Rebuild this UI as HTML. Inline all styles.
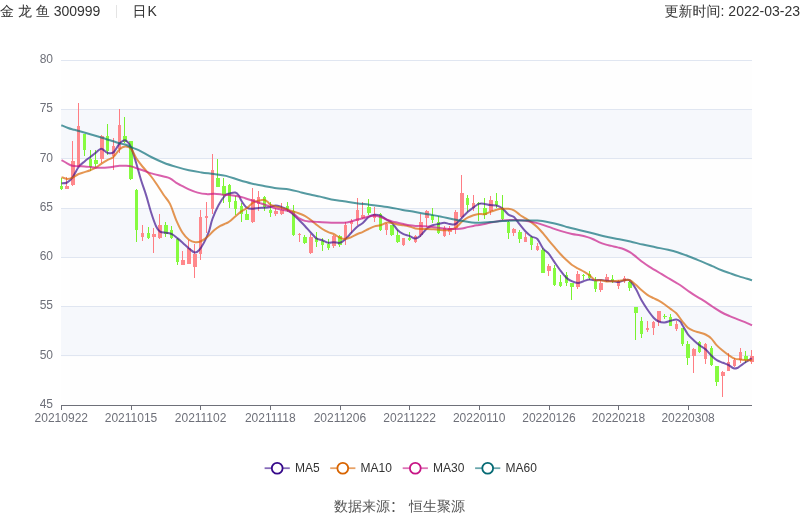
<!DOCTYPE html>
<html lang="zh"><head><meta charset="utf-8"><title>金龙鱼 300999 日K</title>
<style>
html,body{margin:0;padding:0;background:#fff;}
body{width:800px;height:517px;position:relative;overflow:hidden;font-family:"Liberation Sans","WenQuanYi Zen Hei","Noto Sans CJK SC",sans-serif;}
.hd{position:absolute;top:-0.5px;left:0;right:0;height:22px;line-height:22px;font-size:14px;color:#333;white-space:nowrap;}
.hd .l{position:absolute;left:0;top:0;}
.hd .r{position:absolute;right:0;top:0;}
.hd .sep{display:inline-block;width:1px;height:13px;background:#e4e4e4;margin:0 15px 0 16px;vertical-align:-2px;}
.hd .k{letter-spacing:1px;}
.ft{position:absolute;left:0;right:1px;top:494.5px;text-align:center;font-size:14px;color:#555;line-height:20px;white-space:pre;}
svg text{font-family:"Liberation Sans","WenQuanYi Zen Hei",sans-serif;}
.ft .cn{font-family:"Noto Sans CJK SC","WenQuanYi Zen Hei",sans-serif;margin-right:1.2px;}
.ax{font-size:12px;fill:#6E7079;}
.lg{font-size:12px;fill:#333;}
</style></head><body>
<div class="hd"><span class="l">金 龙 鱼 300999<span class="sep"></span><span class="k">日K</span></span><span class="r">更新时间: 2022-03-23</span></div>
<svg width="800" height="455" viewBox="0 22 800 455" style="position:absolute;left:0;top:22px">
<defs><clipPath id="cp"><rect x="61" y="59" width="692" height="347"/></clipPath></defs>
<rect x="61" y="60.50" width="691" height="49.29" fill="rgba(250,250,250,0.2)"/>
<rect x="61" y="109.79" width="691" height="49.29" fill="rgba(210,219,238,0.2)"/>
<rect x="61" y="159.07" width="691" height="49.29" fill="rgba(250,250,250,0.2)"/>
<rect x="61" y="208.36" width="691" height="49.29" fill="rgba(210,219,238,0.2)"/>
<rect x="61" y="257.64" width="691" height="49.29" fill="rgba(250,250,250,0.2)"/>
<rect x="61" y="306.93" width="691" height="49.29" fill="rgba(210,219,238,0.2)"/>
<rect x="61" y="356.21" width="691" height="49.29" fill="rgba(250,250,250,0.2)"/>
<line x1="61" y1="60.5" x2="752" y2="60.5" stroke="#E0E6F1" stroke-width="1"/>
<line x1="61" y1="109.5" x2="752" y2="109.5" stroke="#E0E6F1" stroke-width="1"/>
<line x1="61" y1="158.5" x2="752" y2="158.5" stroke="#E0E6F1" stroke-width="1"/>
<line x1="61" y1="208.5" x2="752" y2="208.5" stroke="#E0E6F1" stroke-width="1"/>
<line x1="61" y1="257.5" x2="752" y2="257.5" stroke="#E0E6F1" stroke-width="1"/>
<line x1="61" y1="306.5" x2="752" y2="306.5" stroke="#E0E6F1" stroke-width="1"/>
<line x1="61" y1="355.5" x2="752" y2="355.5" stroke="#E0E6F1" stroke-width="1"/>
<line x1="61" y1="405.5" x2="752" y2="405.5" stroke="#6E7079" stroke-width="1"/>
<line x1="61.5" y1="405" x2="61.5" y2="410" stroke="#6E7079" stroke-width="1"/>
<text x="61.3" y="422.4" text-anchor="middle" class="ax">20210922</text>
<line x1="131.5" y1="405" x2="131.5" y2="410" stroke="#6E7079" stroke-width="1"/>
<text x="131.0" y="422.4" text-anchor="middle" class="ax">20211015</text>
<line x1="200.5" y1="405" x2="200.5" y2="410" stroke="#6E7079" stroke-width="1"/>
<text x="200.6" y="422.4" text-anchor="middle" class="ax">20211102</text>
<line x1="270.5" y1="405" x2="270.5" y2="410" stroke="#6E7079" stroke-width="1"/>
<text x="270.3" y="422.4" text-anchor="middle" class="ax">20211118</text>
<line x1="340.5" y1="405" x2="340.5" y2="410" stroke="#6E7079" stroke-width="1"/>
<text x="339.9" y="422.4" text-anchor="middle" class="ax">20211206</text>
<line x1="409.5" y1="405" x2="409.5" y2="410" stroke="#6E7079" stroke-width="1"/>
<text x="409.6" y="422.4" text-anchor="middle" class="ax">20211222</text>
<line x1="479.5" y1="405" x2="479.5" y2="410" stroke="#6E7079" stroke-width="1"/>
<text x="479.2" y="422.4" text-anchor="middle" class="ax">20220110</text>
<line x1="549.5" y1="405" x2="549.5" y2="410" stroke="#6E7079" stroke-width="1"/>
<text x="548.9" y="422.4" text-anchor="middle" class="ax">20220126</text>
<line x1="618.5" y1="405" x2="618.5" y2="410" stroke="#6E7079" stroke-width="1"/>
<text x="618.5" y="422.4" text-anchor="middle" class="ax">20220218</text>
<line x1="688.5" y1="405" x2="688.5" y2="410" stroke="#6E7079" stroke-width="1"/>
<text x="688.1" y="422.4" text-anchor="middle" class="ax">20220308</text>
<text x="53" y="62.7" text-anchor="end" class="ax">80</text>
<text x="53" y="111.7" text-anchor="end" class="ax">75</text>
<text x="53" y="161.7" text-anchor="end" class="ax">70</text>
<text x="53" y="210.7" text-anchor="end" class="ax">65</text>
<text x="53" y="259.7" text-anchor="end" class="ax">60</text>
<text x="53" y="308.7" text-anchor="end" class="ax">55</text>
<text x="53" y="358.7" text-anchor="end" class="ax">50</text>
<text x="53" y="407.7" text-anchor="end" class="ax">45</text>
<g>
<rect x="61.0" y="178" width="1" height="12" fill="#78f22e"/>
<rect x="60" y="186" width="3" height="3" fill="#86fb40"/>
<rect x="66.0" y="177" width="1" height="12" fill="#ff7d83"/>
<rect x="65" y="186" width="4" height="3" fill="#ff888c"/>
<rect x="72.0" y="141" width="1" height="45" fill="#ff7d83"/>
<rect x="71" y="161" width="4" height="24" fill="#ff888c"/>
<rect x="78.0" y="103" width="1" height="64" fill="#ff7d83"/>
<rect x="77" y="126" width="3" height="41" fill="#ff888c"/>
<rect x="84.0" y="134" width="1" height="22" fill="#78f22e"/>
<rect x="83" y="134" width="3" height="16" fill="#86fb40"/>
<rect x="90.0" y="150" width="1" height="21" fill="#78f22e"/>
<rect x="89" y="159" width="3" height="8" fill="#86fb40"/>
<rect x="95.0" y="150" width="1" height="17" fill="#78f22e"/>
<rect x="94" y="160" width="4" height="4" fill="#86fb40"/>
<rect x="101.0" y="135" width="1" height="28" fill="#ff7d83"/>
<rect x="100" y="136" width="4" height="23" fill="#ff888c"/>
<rect x="107.0" y="124" width="1" height="31" fill="#78f22e"/>
<rect x="106" y="136" width="3" height="15" fill="#86fb40"/>
<rect x="113.0" y="138" width="1" height="32" fill="#ff7d83"/>
<rect x="112" y="146" width="3" height="10" fill="#ff888c"/>
<rect x="119.0" y="109" width="1" height="44" fill="#ff7d83"/>
<rect x="118" y="125" width="3" height="24" fill="#ff888c"/>
<rect x="124.0" y="117" width="1" height="26" fill="#78f22e"/>
<rect x="123" y="136" width="4" height="6" fill="#86fb40"/>
<rect x="130.0" y="141" width="1" height="39" fill="#78f22e"/>
<rect x="129" y="141" width="4" height="38" fill="#86fb40"/>
<rect x="136.0" y="189" width="1" height="53" fill="#78f22e"/>
<rect x="135" y="190" width="3" height="40" fill="#86fb40"/>
<rect x="142.0" y="225" width="1" height="16" fill="#ff7d83"/>
<rect x="141" y="233" width="3" height="4" fill="#ff888c"/>
<rect x="148.0" y="227" width="1" height="12" fill="#78f22e"/>
<rect x="147" y="233" width="3" height="5" fill="#86fb40"/>
<rect x="153.0" y="228" width="1" height="25" fill="#ff7d83"/>
<rect x="152" y="234" width="4" height="3" fill="#ff888c"/>
<rect x="159.0" y="214" width="1" height="25" fill="#ff7d83"/>
<rect x="158" y="225" width="4" height="13" fill="#ff888c"/>
<rect x="165.0" y="222" width="1" height="15" fill="#78f22e"/>
<rect x="164" y="225" width="4" height="9" fill="#86fb40"/>
<rect x="171.0" y="226" width="1" height="13" fill="#78f22e"/>
<rect x="170" y="230" width="3" height="8" fill="#86fb40"/>
<rect x="177.0" y="238" width="1" height="27" fill="#78f22e"/>
<rect x="176" y="239" width="3" height="23" fill="#86fb40"/>
<rect x="182.0" y="251" width="1" height="14" fill="#ff7d83"/>
<rect x="181" y="260" width="4" height="5" fill="#ff888c"/>
<rect x="188.0" y="240" width="1" height="24" fill="#ff7d83"/>
<rect x="187" y="248" width="4" height="16" fill="#ff888c"/>
<rect x="194.0" y="244" width="1" height="34" fill="#ff7d83"/>
<rect x="193" y="254" width="4" height="13" fill="#ff888c"/>
<rect x="200.0" y="210" width="1" height="50" fill="#ff7d83"/>
<rect x="199" y="217" width="3" height="37" fill="#ff888c"/>
<rect x="206.0" y="202" width="1" height="31" fill="#ff7d83"/>
<rect x="205" y="216" width="3" height="2" fill="#ff888c"/>
<rect x="212.0" y="154" width="1" height="60" fill="#ff7d83"/>
<rect x="211" y="170" width="3" height="39" fill="#ff888c"/>
<rect x="217.0" y="159" width="1" height="28" fill="#78f22e"/>
<rect x="216" y="178" width="4" height="9" fill="#86fb40"/>
<rect x="223.0" y="178" width="1" height="25" fill="#78f22e"/>
<rect x="222" y="186" width="4" height="9" fill="#86fb40"/>
<rect x="229.0" y="184" width="1" height="24" fill="#78f22e"/>
<rect x="228" y="185" width="3" height="17" fill="#86fb40"/>
<rect x="235.0" y="196" width="1" height="19" fill="#78f22e"/>
<rect x="234" y="201" width="3" height="8" fill="#86fb40"/>
<rect x="241.0" y="203" width="1" height="19" fill="#78f22e"/>
<rect x="240" y="206" width="3" height="8" fill="#86fb40"/>
<rect x="246.0" y="210" width="1" height="10" fill="#78f22e"/>
<rect x="245" y="214" width="4" height="6" fill="#86fb40"/>
<rect x="252.0" y="188" width="1" height="35" fill="#ff7d83"/>
<rect x="251" y="199" width="4" height="23" fill="#ff888c"/>
<rect x="258.0" y="191" width="1" height="20" fill="#ff7d83"/>
<rect x="257" y="197" width="3" height="7" fill="#ff888c"/>
<rect x="264.0" y="196" width="1" height="15" fill="#78f22e"/>
<rect x="263" y="197" width="3" height="10" fill="#86fb40"/>
<rect x="270.0" y="202" width="1" height="15" fill="#78f22e"/>
<rect x="269" y="210" width="3" height="3" fill="#86fb40"/>
<rect x="275.0" y="208" width="1" height="8" fill="#ff7d83"/>
<rect x="274" y="211" width="4" height="3" fill="#ff888c"/>
<rect x="281.0" y="203" width="1" height="12" fill="#ff7d83"/>
<rect x="280" y="210" width="4" height="4" fill="#ff888c"/>
<rect x="287.0" y="202" width="1" height="10" fill="#78f22e"/>
<rect x="286" y="206" width="3" height="3" fill="#86fb40"/>
<rect x="293.0" y="205" width="1" height="31" fill="#78f22e"/>
<rect x="292" y="211" width="3" height="24" fill="#86fb40"/>
<rect x="299.0" y="233" width="1" height="9" fill="#ff7d83"/>
<rect x="298" y="234" width="3" height="1" fill="#ff888c"/>
<rect x="304.0" y="235" width="1" height="9" fill="#78f22e"/>
<rect x="303" y="237" width="4" height="6" fill="#86fb40"/>
<rect x="310.0" y="234" width="1" height="20" fill="#ff7d83"/>
<rect x="309" y="237" width="4" height="16" fill="#ff888c"/>
<rect x="316.0" y="232" width="1" height="15" fill="#78f22e"/>
<rect x="315" y="238" width="3" height="4" fill="#86fb40"/>
<rect x="322.0" y="238" width="1" height="13" fill="#78f22e"/>
<rect x="321" y="241" width="3" height="4" fill="#86fb40"/>
<rect x="328.0" y="239" width="1" height="11" fill="#78f22e"/>
<rect x="327" y="244" width="3" height="4" fill="#86fb40"/>
<rect x="333.0" y="235" width="1" height="13" fill="#ff7d83"/>
<rect x="332" y="236" width="4" height="10" fill="#ff888c"/>
<rect x="339.0" y="235" width="1" height="12" fill="#78f22e"/>
<rect x="338" y="236" width="4" height="9" fill="#86fb40"/>
<rect x="345.0" y="222" width="1" height="23" fill="#ff7d83"/>
<rect x="344" y="225" width="3" height="14" fill="#ff888c"/>
<rect x="351.0" y="219" width="1" height="14" fill="#ff7d83"/>
<rect x="350" y="221" width="3" height="3" fill="#ff888c"/>
<rect x="357.0" y="198" width="1" height="27" fill="#ff7d83"/>
<rect x="356" y="210" width="3" height="11" fill="#ff888c"/>
<rect x="362.0" y="202" width="1" height="17" fill="#ff7d83"/>
<rect x="361" y="215" width="4" height="3" fill="#ff888c"/>
<rect x="368.0" y="199" width="1" height="16" fill="#78f22e"/>
<rect x="367" y="207" width="4" height="6" fill="#86fb40"/>
<rect x="374.0" y="207" width="1" height="15" fill="#ff7d83"/>
<rect x="373" y="214" width="3" height="4" fill="#ff888c"/>
<rect x="380.0" y="213" width="1" height="18" fill="#78f22e"/>
<rect x="379" y="214" width="3" height="16" fill="#86fb40"/>
<rect x="386.0" y="223" width="1" height="12" fill="#ff7d83"/>
<rect x="385" y="224" width="3" height="6" fill="#ff888c"/>
<rect x="391.0" y="225" width="1" height="11" fill="#78f22e"/>
<rect x="390" y="225" width="4" height="10" fill="#86fb40"/>
<rect x="397.0" y="230" width="1" height="13" fill="#78f22e"/>
<rect x="396" y="235" width="4" height="7" fill="#86fb40"/>
<rect x="403.0" y="238" width="1" height="8" fill="#ff7d83"/>
<rect x="402" y="238" width="3" height="7" fill="#ff888c"/>
<rect x="409.0" y="232" width="1" height="9" fill="#78f22e"/>
<rect x="408" y="238" width="3" height="2" fill="#86fb40"/>
<rect x="415.0" y="235" width="1" height="8" fill="#ff7d83"/>
<rect x="414" y="236" width="3" height="6" fill="#ff888c"/>
<rect x="420.0" y="214" width="1" height="23" fill="#ff7d83"/>
<rect x="419" y="222" width="4" height="13" fill="#ff888c"/>
<rect x="426.0" y="210" width="1" height="17" fill="#ff7d83"/>
<rect x="425" y="211" width="4" height="7" fill="#ff888c"/>
<rect x="432.0" y="208" width="1" height="15" fill="#78f22e"/>
<rect x="431" y="215" width="3" height="5" fill="#86fb40"/>
<rect x="438.0" y="216" width="1" height="18" fill="#78f22e"/>
<rect x="437" y="222" width="3" height="11" fill="#86fb40"/>
<rect x="444.0" y="226" width="1" height="11" fill="#ff7d83"/>
<rect x="443" y="228" width="3" height="8" fill="#ff888c"/>
<rect x="449.0" y="226" width="1" height="9" fill="#ff7d83"/>
<rect x="448" y="228" width="4" height="4" fill="#ff888c"/>
<rect x="455.0" y="210" width="1" height="24" fill="#ff7d83"/>
<rect x="454" y="212" width="4" height="16" fill="#ff888c"/>
<rect x="461.0" y="175" width="1" height="43" fill="#ff7d83"/>
<rect x="460" y="193" width="4" height="24" fill="#ff888c"/>
<rect x="467.0" y="195" width="1" height="17" fill="#78f22e"/>
<rect x="466" y="198" width="3" height="7" fill="#86fb40"/>
<rect x="473.0" y="195" width="1" height="16" fill="#ff7d83"/>
<rect x="472" y="203" width="3" height="5" fill="#ff888c"/>
<rect x="478.0" y="202" width="1" height="19" fill="#78f22e"/>
<rect x="477" y="203" width="4" height="1" fill="#86fb40"/>
<rect x="484.0" y="198" width="1" height="21" fill="#78f22e"/>
<rect x="483" y="208" width="4" height="7" fill="#86fb40"/>
<rect x="490.0" y="196" width="1" height="19" fill="#ff7d83"/>
<rect x="489" y="200" width="4" height="11" fill="#ff888c"/>
<rect x="496.0" y="193" width="1" height="15" fill="#78f22e"/>
<rect x="495" y="201" width="3" height="4" fill="#86fb40"/>
<rect x="502.0" y="195" width="1" height="25" fill="#78f22e"/>
<rect x="501" y="208" width="3" height="11" fill="#86fb40"/>
<rect x="508.0" y="221" width="1" height="18" fill="#78f22e"/>
<rect x="507" y="222" width="3" height="11" fill="#86fb40"/>
<rect x="513.0" y="228" width="1" height="8" fill="#ff7d83"/>
<rect x="512" y="229" width="4" height="4" fill="#ff888c"/>
<rect x="519.0" y="230" width="1" height="13" fill="#78f22e"/>
<rect x="518" y="232" width="4" height="7" fill="#86fb40"/>
<rect x="525.0" y="233" width="1" height="9" fill="#ff7d83"/>
<rect x="524" y="237" width="3" height="5" fill="#ff888c"/>
<rect x="531.0" y="236" width="1" height="14" fill="#78f22e"/>
<rect x="530" y="237" width="3" height="8" fill="#86fb40"/>
<rect x="537.0" y="243" width="1" height="8" fill="#ff7d83"/>
<rect x="536" y="246" width="3" height="4" fill="#ff888c"/>
<rect x="542.0" y="248" width="1" height="25" fill="#78f22e"/>
<rect x="541" y="250" width="4" height="23" fill="#86fb40"/>
<rect x="548.0" y="264" width="1" height="12" fill="#ff7d83"/>
<rect x="547" y="266" width="4" height="5" fill="#ff888c"/>
<rect x="554.0" y="265" width="1" height="21" fill="#78f22e"/>
<rect x="553" y="268" width="3" height="17" fill="#86fb40"/>
<rect x="560.0" y="275" width="1" height="12" fill="#78f22e"/>
<rect x="559" y="282" width="3" height="4" fill="#86fb40"/>
<rect x="566.0" y="272" width="1" height="14" fill="#78f22e"/>
<rect x="565" y="275" width="3" height="8" fill="#86fb40"/>
<rect x="571.0" y="283" width="1" height="17" fill="#78f22e"/>
<rect x="570" y="283" width="4" height="4" fill="#86fb40"/>
<rect x="577.0" y="271" width="1" height="18" fill="#ff7d83"/>
<rect x="576" y="274" width="4" height="13" fill="#ff888c"/>
<rect x="583.0" y="274" width="1" height="6" fill="#78f22e"/>
<rect x="582" y="275" width="3" height="1" fill="#86fb40"/>
<rect x="589.0" y="271" width="1" height="9" fill="#78f22e"/>
<rect x="588" y="274" width="3" height="4" fill="#86fb40"/>
<rect x="595.0" y="277" width="1" height="15" fill="#78f22e"/>
<rect x="594" y="281" width="3" height="8" fill="#86fb40"/>
<rect x="600.0" y="280" width="1" height="12" fill="#ff7d83"/>
<rect x="599" y="283" width="4" height="7" fill="#ff888c"/>
<rect x="606.0" y="274" width="1" height="8" fill="#ff7d83"/>
<rect x="605" y="277" width="4" height="4" fill="#ff888c"/>
<rect x="612.0" y="275" width="1" height="8" fill="#78f22e"/>
<rect x="611" y="279" width="3" height="2" fill="#86fb40"/>
<rect x="618.0" y="280" width="1" height="9" fill="#ff7d83"/>
<rect x="617" y="281" width="3" height="5" fill="#ff888c"/>
<rect x="624.0" y="276" width="1" height="7" fill="#ff7d83"/>
<rect x="623" y="278" width="3" height="3" fill="#ff888c"/>
<rect x="629.0" y="281" width="1" height="10" fill="#78f22e"/>
<rect x="628" y="282" width="4" height="6" fill="#86fb40"/>
<rect x="635.0" y="307" width="1" height="33" fill="#78f22e"/>
<rect x="634" y="307" width="4" height="6" fill="#86fb40"/>
<rect x="641.0" y="317" width="1" height="21" fill="#78f22e"/>
<rect x="640" y="321" width="3" height="13" fill="#86fb40"/>
<rect x="647.0" y="321" width="1" height="11" fill="#ff7d83"/>
<rect x="646" y="328" width="3" height="2" fill="#ff888c"/>
<rect x="653.0" y="321" width="1" height="14" fill="#ff7d83"/>
<rect x="652" y="322" width="3" height="6" fill="#ff888c"/>
<rect x="658.0" y="311" width="1" height="15" fill="#ff7d83"/>
<rect x="657" y="311" width="4" height="11" fill="#ff888c"/>
<rect x="664.0" y="314" width="1" height="5" fill="#78f22e"/>
<rect x="663" y="316" width="4" height="1" fill="#86fb40"/>
<rect x="670.0" y="314" width="1" height="12" fill="#78f22e"/>
<rect x="669" y="317" width="3" height="9" fill="#86fb40"/>
<rect x="676.0" y="321" width="1" height="10" fill="#ff7d83"/>
<rect x="675" y="324" width="3" height="5" fill="#ff888c"/>
<rect x="682.0" y="328" width="1" height="18" fill="#78f22e"/>
<rect x="681" y="328" width="3" height="16" fill="#86fb40"/>
<rect x="687.0" y="341" width="1" height="24" fill="#78f22e"/>
<rect x="686" y="344" width="4" height="14" fill="#86fb40"/>
<rect x="693.0" y="348" width="1" height="25" fill="#ff7d83"/>
<rect x="692" y="349" width="4" height="7" fill="#ff888c"/>
<rect x="699.0" y="341" width="1" height="12" fill="#78f22e"/>
<rect x="698" y="342" width="3" height="10" fill="#86fb40"/>
<rect x="705.0" y="343" width="1" height="21" fill="#ff7d83"/>
<rect x="704" y="344" width="3" height="15" fill="#ff888c"/>
<rect x="711.0" y="346" width="1" height="20" fill="#78f22e"/>
<rect x="710" y="348" width="3" height="17" fill="#86fb40"/>
<rect x="716.0" y="366" width="1" height="20" fill="#78f22e"/>
<rect x="715" y="366" width="4" height="16" fill="#86fb40"/>
<rect x="722.0" y="371" width="1" height="26" fill="#ff7d83"/>
<rect x="721" y="372" width="4" height="4" fill="#ff888c"/>
<rect x="728.0" y="353" width="1" height="18" fill="#ff7d83"/>
<rect x="727" y="362" width="3" height="9" fill="#ff888c"/>
<rect x="734.0" y="358" width="1" height="9" fill="#ff7d83"/>
<rect x="733" y="360" width="3" height="6" fill="#ff888c"/>
<rect x="740.0" y="348" width="1" height="15" fill="#ff7d83"/>
<rect x="739" y="352" width="3" height="8" fill="#ff888c"/>
<rect x="745.0" y="351" width="1" height="12" fill="#78f22e"/>
<rect x="744" y="356" width="4" height="4" fill="#86fb40"/>
<rect x="751.0" y="350" width="1" height="14" fill="#ff7d83"/>
<rect x="750" y="356" width="4" height="6" fill="#ff888c"/>
</g><g clip-path="url(#cp)">
<path d="M61.50 183.40C62.43 183.25 65.28 183.45 67.10 182.50C68.92 181.55 70.48 180.28 72.40 177.70C74.32 175.12 76.57 169.72 78.60 167.00C80.63 164.28 82.65 163.07 84.60 161.40C86.55 159.73 88.42 158.47 90.30 157.00C92.18 155.53 94.07 153.98 95.90 152.60C97.73 151.22 99.40 148.68 101.30 148.70C103.20 148.72 105.28 152.08 107.30 152.70C109.32 153.32 111.37 153.92 113.40 152.40C115.43 150.88 117.53 145.62 119.50 143.60C121.47 141.58 123.27 139.65 125.20 140.30C127.13 140.95 129.25 143.63 131.10 147.50C132.95 151.37 134.63 158.03 136.30 163.50C137.97 168.97 139.47 175.03 141.10 180.30C142.73 185.57 144.42 189.70 146.10 195.10C147.78 200.50 149.52 207.47 151.20 212.70C152.88 217.93 154.73 223.35 156.20 226.50C157.67 229.65 158.32 230.55 160.00 231.60C161.68 232.65 164.32 232.38 166.30 232.80C168.28 233.22 170.02 233.17 171.90 234.10C173.78 235.03 175.60 236.77 177.60 238.40C179.60 240.03 181.80 242.05 183.90 243.90C186.00 245.75 188.38 248.08 190.20 249.50C192.02 250.92 193.33 252.28 194.80 252.40C196.27 252.52 197.47 251.83 199.00 250.20C200.53 248.57 202.33 245.75 204.00 242.60C205.67 239.45 207.60 235.23 209.00 231.30C210.40 227.37 210.82 223.35 212.40 219.00C213.98 214.65 216.33 209.18 218.50 205.20C220.67 201.22 223.58 197.03 225.40 195.10C227.22 193.17 227.75 194.02 229.40 193.60C231.05 193.18 233.72 192.25 235.30 192.60C236.88 192.95 237.88 194.33 238.90 195.70C239.92 197.07 240.08 198.80 241.40 200.80C242.72 202.80 244.87 206.38 246.80 207.70C248.73 209.02 251.07 208.67 253.00 208.70C254.93 208.73 256.50 208.07 258.40 207.90C260.30 207.73 262.42 207.85 264.40 207.70C266.38 207.55 268.43 207.37 270.30 207.00C272.17 206.63 273.72 205.50 275.60 205.50C277.48 205.50 279.62 206.32 281.60 207.00C283.58 207.68 285.55 208.33 287.50 209.60C289.45 210.87 291.35 212.82 293.30 214.60C295.25 216.38 297.27 218.40 299.20 220.30C301.13 222.20 302.95 223.93 304.90 226.00C306.85 228.07 308.98 230.65 310.90 232.70C312.82 234.75 314.48 237.03 316.40 238.30C318.32 239.57 320.42 239.55 322.40 240.30C324.38 241.05 326.42 242.48 328.30 242.80C330.18 243.12 331.75 242.20 333.70 242.20C335.65 242.20 338.03 243.33 340.00 242.80C341.97 242.27 343.62 240.68 345.50 239.00C347.38 237.32 349.30 234.80 351.30 232.70C353.30 230.60 355.63 227.97 357.50 226.40C359.37 224.83 360.65 224.87 362.50 223.30C364.35 221.73 366.60 218.43 368.60 217.00C370.60 215.57 372.52 214.90 374.50 214.70C376.48 214.50 378.52 215.00 380.50 215.80C382.48 216.60 384.47 218.30 386.40 219.50C388.33 220.70 390.20 221.20 392.10 223.00C394.00 224.80 395.90 228.45 397.80 230.30C399.70 232.15 401.57 233.17 403.50 234.10C405.43 235.03 407.42 235.17 409.40 235.90C411.38 236.63 413.50 238.60 415.40 238.50C417.30 238.40 418.88 236.98 420.80 235.30C422.72 233.62 424.95 230.07 426.90 228.40C428.85 226.73 430.58 226.03 432.50 225.30C434.42 224.57 436.43 224.43 438.40 224.00C440.37 223.57 442.42 222.70 444.30 222.70C446.18 222.70 447.80 223.78 449.70 224.00C451.60 224.22 453.65 225.05 455.70 224.00C457.75 222.95 460.02 219.70 462.00 217.70C463.98 215.70 465.70 213.68 467.60 212.00C469.50 210.32 471.53 208.95 473.40 207.60C475.27 206.25 476.92 204.52 478.80 203.90C480.68 203.28 482.83 203.70 484.70 203.90C486.57 204.10 488.03 204.83 490.00 205.10C491.97 205.37 494.43 204.95 496.50 205.50C498.57 206.05 500.42 206.88 502.40 208.40C504.38 209.92 506.47 213.15 508.40 214.60C510.33 216.05 512.12 215.47 514.00 217.10C515.88 218.73 517.77 222.00 519.70 224.40C521.63 226.80 523.63 229.48 525.60 231.50C527.57 233.52 529.53 235.25 531.50 236.50C533.47 237.75 535.47 237.00 537.40 239.00C539.33 241.00 541.22 246.07 543.10 248.50C544.98 250.93 546.80 251.33 548.70 253.60C550.60 255.87 552.55 259.28 554.50 262.10C556.45 264.92 558.42 267.90 560.40 270.50C562.38 273.10 564.52 275.92 566.40 277.70C568.28 279.48 569.77 280.32 571.70 281.20C573.63 282.08 576.02 283.00 578.00 283.00C579.98 283.00 581.70 281.77 583.60 281.20C585.50 280.63 587.45 279.77 589.40 279.60C591.35 279.43 593.37 280.15 595.30 280.20C597.23 280.25 599.12 279.80 601.00 279.90C602.88 280.00 604.65 280.58 606.60 280.80C608.55 281.02 610.70 280.98 612.70 281.20C614.70 281.42 616.63 282.27 618.60 282.10C620.57 281.93 622.60 280.45 624.50 280.20C626.40 279.95 628.12 279.17 630.00 280.60C631.88 282.03 633.90 285.55 635.80 288.80C637.70 292.05 639.47 296.65 641.40 300.10C643.33 303.55 645.37 306.57 647.40 309.50C649.43 312.43 651.72 315.70 653.60 317.70C655.48 319.70 656.85 320.72 658.70 321.50C660.55 322.28 662.73 322.52 664.70 322.40C666.67 322.28 668.57 321.27 670.50 320.80C672.43 320.33 674.67 319.48 676.30 319.60C677.93 319.72 679.27 320.55 680.30 321.50C681.33 322.45 681.23 323.17 682.50 325.30C683.77 327.43 686.00 331.77 687.90 334.30C689.80 336.83 691.97 338.68 693.90 340.50C695.83 342.32 697.57 343.73 699.50 345.20C701.43 346.67 703.50 347.53 705.50 349.30C707.50 351.07 709.62 353.98 711.50 355.80C713.38 357.62 714.90 359.03 716.80 360.20C718.70 361.37 720.95 362.00 722.90 362.80C724.85 363.60 726.72 364.08 728.50 365.00C730.28 365.92 732.13 367.80 733.60 368.30C735.07 368.80 736.15 368.42 737.30 368.00C738.45 367.58 739.07 366.80 740.50 365.80C741.93 364.80 744.02 363.25 745.90 362.00C747.78 360.75 750.82 358.92 751.80 358.30" fill="none" stroke="#3A0C8A" stroke-width="2" stroke-opacity="0.68" stroke-linejoin="round"/>
<path d="M61.50 177.10C62.43 177.42 65.28 178.90 67.10 179.00C68.92 179.10 70.48 178.53 72.40 177.70C74.32 176.87 76.57 174.93 78.60 174.00C80.63 173.07 82.65 172.73 84.60 172.10C86.55 171.47 88.42 170.93 90.30 170.20C92.18 169.47 93.97 168.85 95.90 167.70C97.83 166.55 100.00 164.57 101.90 163.30C103.80 162.03 105.38 161.15 107.30 160.10C109.22 159.05 111.37 158.78 113.40 157.00C115.43 155.22 117.53 151.13 119.50 149.40C121.47 147.67 123.27 146.70 125.20 146.60C127.13 146.50 129.25 146.85 131.10 148.80C132.95 150.75 134.42 155.35 136.30 158.30C138.18 161.25 139.92 163.47 142.40 166.50C144.88 169.53 148.70 173.37 151.20 176.50C153.70 179.63 155.32 182.22 157.40 185.30C159.48 188.38 161.60 191.90 163.70 195.00C165.80 198.10 167.90 199.68 170.00 203.90C172.10 208.12 174.20 215.48 176.30 220.30C178.40 225.12 180.50 229.57 182.60 232.80C184.70 236.03 186.80 238.13 188.90 239.70C191.00 241.27 193.10 241.98 195.20 242.20C197.30 242.42 199.40 241.93 201.50 241.00C203.60 240.07 205.70 238.38 207.80 236.60C209.90 234.82 212.02 232.08 214.10 230.30C216.18 228.52 218.32 227.05 220.30 225.90C222.28 224.75 224.48 224.13 226.00 223.40C227.52 222.67 227.85 222.65 229.40 221.50C230.95 220.35 233.30 218.18 235.30 216.50C237.30 214.82 239.48 212.77 241.40 211.40C243.32 210.03 244.87 209.77 246.80 208.30C248.73 206.83 251.07 203.85 253.00 202.60C254.93 201.35 256.50 201.25 258.40 200.80C260.30 200.35 262.83 199.70 264.40 199.90C265.97 200.10 266.82 201.23 267.80 202.00C268.78 202.77 269.00 203.77 270.30 204.50C271.60 205.23 273.72 205.83 275.60 206.40C277.48 206.97 279.62 207.37 281.60 207.90C283.58 208.43 285.55 209.02 287.50 209.60C289.45 210.18 291.35 210.75 293.30 211.40C295.25 212.05 297.28 212.77 299.20 213.50C301.12 214.23 302.85 214.72 304.80 215.80C306.75 216.88 308.97 218.53 310.90 220.00C312.83 221.47 314.48 223.10 316.40 224.60C318.32 226.10 320.42 227.75 322.40 229.00C324.38 230.25 326.42 231.27 328.30 232.10C330.18 232.93 331.75 233.05 333.70 234.00C335.65 234.95 338.03 236.97 340.00 237.80C341.97 238.63 343.62 239.12 345.50 239.00C347.38 238.88 349.30 237.93 351.30 237.10C353.30 236.27 355.63 234.83 357.50 234.00C359.37 233.17 360.65 232.93 362.50 232.10C364.35 231.27 366.60 229.95 368.60 229.00C370.60 228.05 372.52 227.03 374.50 226.40C376.48 225.77 378.52 225.82 380.50 225.20C382.48 224.58 384.47 223.08 386.40 222.70C388.33 222.32 390.20 222.58 392.10 222.90C394.00 223.22 395.90 224.20 397.80 224.60C399.70 225.00 401.57 224.98 403.50 225.30C405.43 225.62 407.42 225.98 409.40 226.50C411.38 227.02 413.50 227.98 415.40 228.40C417.30 228.82 418.88 228.90 420.80 229.00C422.72 229.10 424.95 228.95 426.90 229.00C428.85 229.05 430.58 229.18 432.50 229.30C434.42 229.42 436.43 229.53 438.40 229.70C440.37 229.87 442.42 230.30 444.30 230.30C446.18 230.30 447.80 230.12 449.70 229.70C451.60 229.28 453.65 229.17 455.70 227.80C457.75 226.43 460.02 223.18 462.00 221.50C463.98 219.82 465.70 218.75 467.60 217.70C469.50 216.65 471.53 215.83 473.40 215.20C475.27 214.57 476.92 214.07 478.80 213.90C480.68 213.73 482.83 214.52 484.70 214.20C486.57 213.88 488.03 212.75 490.00 212.00C491.97 211.25 494.43 210.23 496.50 209.70C498.57 209.17 500.42 208.95 502.40 208.80C504.38 208.65 506.47 208.55 508.40 208.80C510.33 209.05 512.12 209.32 514.00 210.30C515.88 211.28 517.77 213.35 519.70 214.70C521.63 216.05 523.63 217.10 525.60 218.40C527.57 219.70 529.53 221.03 531.50 222.50C533.47 223.97 535.47 225.38 537.40 227.20C539.33 229.02 541.22 231.22 543.10 233.40C544.98 235.58 546.80 238.00 548.70 240.30C550.60 242.60 552.55 244.92 554.50 247.20C556.45 249.48 558.42 251.87 560.40 254.00C562.38 256.13 564.52 258.22 566.40 260.00C568.28 261.78 569.77 263.28 571.70 264.70C573.63 266.12 576.02 267.37 578.00 268.50C579.98 269.63 581.70 270.38 583.60 271.50C585.50 272.62 587.45 273.75 589.40 275.20C591.35 276.65 593.37 279.37 595.30 280.20C597.23 281.03 599.12 280.00 601.00 280.20C602.88 280.40 604.65 281.23 606.60 281.40C608.55 281.57 610.70 281.30 612.70 281.20C614.70 281.10 616.63 280.97 618.60 280.80C620.57 280.63 622.60 280.30 624.50 280.20C626.40 280.10 628.12 279.43 630.00 280.20C631.88 280.97 633.90 283.17 635.80 284.80C637.70 286.43 639.47 288.33 641.40 290.00C643.33 291.67 645.37 293.43 647.40 294.80C649.43 296.17 651.72 297.22 653.60 298.20C655.48 299.18 656.85 299.65 658.70 300.70C660.55 301.75 662.73 303.13 664.70 304.50C666.67 305.87 668.57 307.43 670.50 308.90C672.43 310.37 674.30 311.20 676.30 313.30C678.30 315.40 680.57 319.08 682.50 321.50C684.43 323.92 686.00 326.23 687.90 327.80C689.80 329.37 691.97 330.12 693.90 330.90C695.83 331.68 697.57 331.90 699.50 332.50C701.43 333.10 703.52 333.48 705.50 334.50C707.48 335.52 709.52 336.78 711.40 338.60C713.28 340.42 714.88 343.37 716.80 345.40C718.72 347.43 720.95 349.20 722.90 350.80C724.85 352.40 726.55 353.70 728.50 355.00C730.45 356.30 732.60 357.85 734.60 358.60C736.60 359.35 738.62 359.23 740.50 359.50C742.38 359.77 744.02 360.08 745.90 360.20C747.78 360.32 750.82 360.20 751.80 360.20" fill="none" stroke="#D86400" stroke-width="2" stroke-opacity="0.68" stroke-linejoin="round"/>
<path d="M61.50 160.10C62.43 160.63 65.28 162.35 67.10 163.30C68.92 164.25 70.48 165.32 72.40 165.80C74.32 166.28 76.57 166.10 78.60 166.20C80.63 166.30 82.65 166.27 84.60 166.40C86.55 166.53 88.42 166.78 90.30 167.00C92.18 167.22 93.97 167.58 95.90 167.70C97.83 167.82 100.00 167.75 101.90 167.70C103.80 167.65 105.38 167.57 107.30 167.40C109.22 167.23 111.37 166.97 113.40 166.70C115.43 166.43 117.53 165.95 119.50 165.80C121.47 165.65 123.27 165.70 125.20 165.80C127.13 165.90 128.87 165.87 131.10 166.40C133.33 166.93 136.45 168.27 138.60 169.00C140.75 169.73 141.90 170.07 144.00 170.80C146.10 171.53 147.92 172.45 151.20 173.40C154.48 174.35 160.57 175.67 163.70 176.50C166.83 177.33 167.90 177.35 170.00 178.40C172.10 179.45 174.62 181.70 176.30 182.80C177.98 183.90 178.00 183.92 180.10 185.00C182.20 186.08 185.97 188.03 188.90 189.30C191.83 190.57 194.77 191.80 197.70 192.60C200.63 193.40 203.77 193.90 206.50 194.10C209.23 194.30 211.58 193.73 214.10 193.80C216.62 193.87 219.62 194.28 221.60 194.50C223.58 194.72 224.70 195.00 226.00 195.10C227.30 195.20 227.25 194.88 229.40 195.10C231.55 195.32 236.27 195.88 238.90 196.40C241.53 196.92 242.85 197.47 245.20 198.20C247.55 198.93 250.80 200.07 253.00 200.80C255.20 201.53 256.50 201.98 258.40 202.60C260.30 203.22 262.42 203.87 264.40 204.50C266.38 205.13 268.43 205.77 270.30 206.40C272.17 207.03 273.72 207.77 275.60 208.30C277.48 208.83 279.62 209.18 281.60 209.60C283.58 210.02 285.55 210.18 287.50 210.80C289.45 211.42 291.35 212.03 293.30 213.30C295.25 214.57 297.27 217.13 299.20 218.40C301.13 219.67 302.97 220.38 304.90 220.90C306.83 221.42 308.47 221.32 310.80 221.50C313.13 221.68 315.47 221.80 318.90 222.00C322.33 222.20 327.22 222.58 331.40 222.70C335.58 222.82 340.68 222.92 344.00 222.70C347.32 222.48 349.05 221.93 351.30 221.40C353.55 220.87 355.57 220.02 357.50 219.50C359.43 218.98 361.05 218.82 362.90 218.30C364.75 217.78 366.67 216.82 368.60 216.40C370.53 215.98 372.52 215.70 374.50 215.80C376.48 215.90 378.52 216.38 380.50 217.00C382.48 217.62 384.47 218.77 386.40 219.50C388.33 220.23 390.20 220.87 392.10 221.40C394.00 221.93 395.90 222.27 397.80 222.70C399.70 223.13 401.57 223.57 403.50 224.00C405.43 224.43 407.42 224.98 409.40 225.30C411.38 225.62 413.50 225.80 415.40 225.90C417.30 226.00 418.88 225.80 420.80 225.90C422.72 226.00 424.95 226.30 426.90 226.50C428.85 226.70 430.58 226.88 432.50 227.10C434.42 227.32 436.43 227.58 438.40 227.80C440.37 228.02 442.42 228.20 444.30 228.40C446.18 228.60 447.80 228.90 449.70 229.00C451.60 229.10 453.65 229.07 455.70 229.00C457.75 228.93 460.02 228.92 462.00 228.60C463.98 228.28 465.70 227.55 467.60 227.10C469.50 226.65 471.53 226.25 473.40 225.90C475.27 225.55 476.92 225.32 478.80 225.00C480.68 224.68 482.83 224.38 484.70 224.00C486.57 223.62 487.05 223.30 490.00 222.70C492.95 222.10 498.40 220.83 502.40 220.40C506.40 219.97 510.13 220.05 514.00 220.10C517.87 220.15 521.70 220.20 525.60 220.70C529.50 221.20 533.55 222.07 537.40 223.10C541.25 224.13 544.87 225.60 548.70 226.90C552.53 228.20 556.52 229.72 560.40 230.90C564.28 232.08 568.73 233.28 572.00 234.00C575.27 234.72 577.42 234.68 580.00 235.20C582.58 235.72 585.40 236.47 587.50 237.10C589.60 237.73 590.70 238.17 592.60 239.00C594.50 239.83 596.80 241.20 598.90 242.10C601.00 243.00 603.12 243.77 605.20 244.40C607.28 245.03 609.32 245.40 611.40 245.90C613.48 246.40 615.60 246.85 617.70 247.40C619.80 247.95 621.90 248.37 624.00 249.20C626.10 250.03 628.20 251.07 630.30 252.40C632.40 253.73 634.50 255.55 636.60 257.20C638.70 258.85 640.80 260.72 642.90 262.30C645.00 263.88 647.10 265.35 649.20 266.70C651.30 268.05 653.40 269.15 655.50 270.40C657.60 271.65 659.70 272.93 661.80 274.20C663.90 275.47 666.02 276.75 668.10 278.00C670.18 279.25 672.32 280.53 674.30 281.70C676.28 282.87 677.73 283.50 680.00 285.00C682.27 286.50 685.43 288.97 687.90 290.70C690.37 292.43 692.18 293.75 694.80 295.40C697.42 297.05 700.68 298.75 703.60 300.60C706.52 302.45 709.40 304.60 712.30 306.50C715.20 308.40 718.10 310.40 721.00 312.00C723.90 313.60 726.80 314.83 729.70 316.10C732.60 317.37 735.50 318.43 738.40 319.60C741.30 320.77 744.83 322.13 747.10 323.10C749.37 324.07 751.18 325.02 752.00 325.40" fill="none" stroke="#C71585" stroke-width="2" stroke-opacity="0.68" stroke-linejoin="round"/>
<path d="M61.30 125.20C62.43 125.67 66.15 127.28 68.10 128.00C70.05 128.72 71.20 129.00 73.00 129.50C74.80 130.00 74.07 129.63 78.90 131.00C83.73 132.37 95.22 135.63 102.00 137.70C108.78 139.77 115.60 142.22 119.60 143.40C123.60 144.58 124.10 144.17 126.00 144.80C127.90 145.43 128.90 146.32 131.00 147.20C133.10 148.08 135.23 148.47 138.60 150.10C141.97 151.73 147.02 154.90 151.20 157.00C155.38 159.10 159.52 161.05 163.70 162.70C167.88 164.35 172.10 165.63 176.30 166.90C180.50 168.17 184.70 169.38 188.90 170.30C193.10 171.22 197.32 171.78 201.50 172.40C205.68 173.02 209.92 173.42 214.00 174.00C218.08 174.58 221.85 174.90 226.00 175.90C230.15 176.90 234.67 178.73 238.90 180.00C243.13 181.27 247.22 182.50 251.40 183.50C255.58 184.50 259.80 185.22 264.00 186.00C268.20 186.78 272.40 187.63 276.60 188.20C280.80 188.77 285.28 188.75 289.20 189.40C293.12 190.05 296.60 191.25 300.10 192.10C303.60 192.95 306.85 193.75 310.20 194.50C313.55 195.25 316.67 195.78 320.20 196.60C323.73 197.42 327.43 198.62 331.40 199.40C335.37 200.18 339.80 200.67 344.00 201.30C348.20 201.93 352.40 202.63 356.60 203.20C360.80 203.77 365.00 204.18 369.20 204.70C373.40 205.22 378.33 205.85 381.80 206.30C385.27 206.75 386.53 206.80 390.00 207.40C393.47 208.00 398.40 209.13 402.60 209.90C406.80 210.67 411.02 211.27 415.20 212.00C419.38 212.73 423.52 213.57 427.70 214.30C431.88 215.03 436.10 215.57 440.30 216.40C444.50 217.23 449.33 218.57 452.90 219.30C456.47 220.03 458.55 220.28 461.70 220.80C464.85 221.32 468.65 222.08 471.80 222.40C474.95 222.72 477.57 222.75 480.60 222.70C483.63 222.65 486.37 222.38 490.00 222.10C493.63 221.82 498.40 221.25 502.40 221.00C506.40 220.75 510.13 220.67 514.00 220.60C517.87 220.53 521.70 220.60 525.60 220.60C529.50 220.60 533.55 220.33 537.40 220.60C541.25 220.87 544.87 221.47 548.70 222.20C552.53 222.93 557.18 224.15 560.40 225.00C563.62 225.85 564.73 226.43 568.00 227.30C571.27 228.17 575.90 229.20 580.00 230.20C584.10 231.20 588.40 232.25 592.60 233.30C596.80 234.35 601.02 235.55 605.20 236.50C609.38 237.45 613.52 238.17 617.70 239.00C621.88 239.83 626.10 240.57 630.30 241.50C634.50 242.43 638.70 243.65 642.90 244.60C647.10 245.55 651.30 246.33 655.50 247.20C659.70 248.07 664.45 248.97 668.10 249.80C671.75 250.63 674.40 251.28 677.40 252.20C680.40 253.12 683.20 254.20 686.10 255.30C689.00 256.40 691.88 257.63 694.80 258.80C697.72 259.97 700.68 261.08 703.60 262.30C706.52 263.52 709.40 264.82 712.30 266.10C715.20 267.38 718.10 268.83 721.00 270.00C723.90 271.17 726.80 272.08 729.70 273.10C732.60 274.12 735.50 275.17 738.40 276.10C741.30 277.03 744.83 277.98 747.10 278.70C749.37 279.42 751.18 280.12 752.00 280.40" fill="none" stroke="#056A74" stroke-width="2" stroke-opacity="0.68" stroke-linejoin="round"/>
</g>
<line x1="264.6" y1="468.2" x2="289.8" y2="468.2" stroke="#36098A" stroke-opacity="0.6" stroke-width="1.8"/>
<circle cx="277.2" cy="468.2" r="5.4" fill="#fff" stroke="#36098A" stroke-width="1.8"/>
<text x="295.0" y="472.3" class="lg">MA5</text>
<line x1="330.2" y1="468.2" x2="355.4" y2="468.2" stroke="#D86400" stroke-opacity="0.6" stroke-width="1.8"/>
<circle cx="342.8" cy="468.2" r="5.4" fill="#fff" stroke="#D86400" stroke-width="1.8"/>
<text x="360.6" y="472.3" class="lg">MA10</text>
<line x1="402.7" y1="468.2" x2="427.9" y2="468.2" stroke="#C71585" stroke-opacity="0.6" stroke-width="1.8"/>
<circle cx="415.3" cy="468.2" r="5.4" fill="#fff" stroke="#C71585" stroke-width="1.8"/>
<text x="433.1" y="472.3" class="lg">MA30</text>
<line x1="475.1" y1="468.2" x2="500.3" y2="468.2" stroke="#056A74" stroke-opacity="0.6" stroke-width="1.8"/>
<circle cx="487.7" cy="468.2" r="5.4" fill="#fff" stroke="#056A74" stroke-width="1.8"/>
<text x="505.5" y="472.3" class="lg">MA60</text>
</svg>
<div class="ft">数据来源<span class="cn">：</span> 恒生聚源</div>
</body></html>
